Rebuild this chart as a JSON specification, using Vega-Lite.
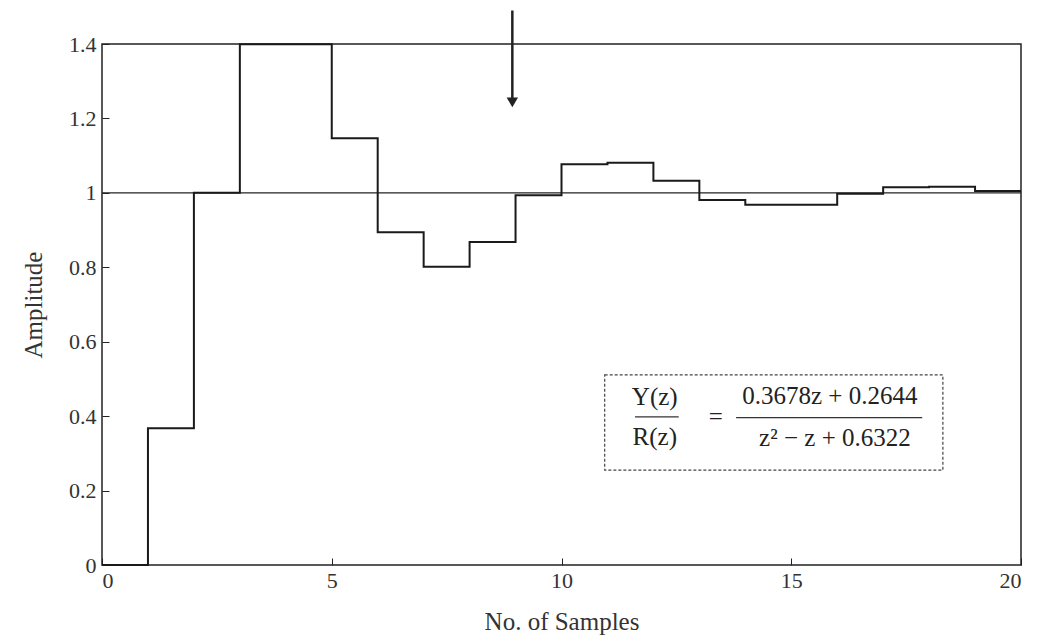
{
  "$schema": "https://vega.github.io/schema/vega-lite/v6.json",
  "autosize": "none",
  "padding": {"left": 102, "top": 44, "right": 22, "bottom": 75},
  "width": 919,
  "height": 521,
  "background": "white",
  "config": {
    "view": {"stroke": "#222", "strokeWidth": 1.5},
    "font": "Liberation Serif",
    "axis": {
      "grid": false,
      "domain": false,
      "tickColor": "#222",
      "tickSize": -7,
      "labelFont": "Liberation Serif",
      "labelFontSize": 22,
      "labelColor": "#333",
      "titleFont": "Liberation Serif",
      "titleFontSize": 25,
      "titleFontWeight": "normal",
      "titleColor": "#333"
    }
  },
  "datasets": {
    "resp": [
      {"k": 0, "y": 0},
      {"k": 1, "y": 0.3678},
      {"k": 2, "y": 1.0},
      {"k": 3, "y": 1.3996},
      {"k": 4, "y": 1.3996},
      {"k": 5, "y": 1.1469},
      {"k": 6, "y": 0.8944},
      {"k": 7, "y": 0.8015},
      {"k": 8, "y": 0.8682},
      {"k": 9, "y": 0.9937},
      {"k": 10, "y": 1.077},
      {"k": 11, "y": 1.081},
      {"k": 12, "y": 1.0323},
      {"k": 13, "y": 0.9811},
      {"k": 14, "y": 0.968},
      {"k": 15, "y": 0.968},
      {"k": 16, "y": 0.9975},
      {"k": 17, "y": 1.0148},
      {"k": 18, "y": 1.0164},
      {"k": 19, "y": 1.005},
      {"k": 20, "y": 1.005}
    ],
    "texts": [
      {"x": 12.03, "y": 0.452, "t": "Y(z)", "style": "italic"},
      {"x": 12.03, "y": 0.343, "t": "R(z)", "style": "italic"},
      {"x": 13.36, "y": 0.398, "t": "=", "style": "normal"},
      {"x": 15.84, "y": 0.455, "t": "0.3678z + 0.2644", "style": "normal"},
      {"x": 15.95, "y": 0.342, "t": "z² − z + 0.6322", "style": "normal"}
    ],
    "fracs": [
      {"x1": 11.6, "x2": 12.55, "y": 0.398},
      {"x1": 13.8, "x2": 17.85, "y": 0.396}
    ]
  },
  "layer": [
    {
      "data": {"values": [{"a": 1}]},
      "mark": {"type": "rule", "color": "#222", "strokeWidth": 1.3},
      "encoding": {"y": {"datum": 1, "type": "quantitative"}}
    },
    {
      "data": {"name": "resp"},
      "mark": {"type": "line", "interpolate": "step-after", "color": "#1a1a1a", "strokeWidth": 2},
      "encoding": {
        "x": {
          "field": "k", "type": "quantitative",
          "scale": {"domain": [0, 20], "nice": false},
          "axis": {"values": [0, 5, 10, 15, 20], "title": "No. of Samples", "labelPadding": 12, "titlePadding": 18}
        },
        "y": {
          "field": "y", "type": "quantitative",
          "scale": {"domain": [0, 1.4], "nice": false, "clamp": false},
          "axis": {"values": [0, 0.2, 0.4, 0.6, 0.8, 1, 1.2, 1.4], "format": "~g", "title": "Amplitude", "labelPadding": 13, "titlePadding": 22}
        }
      }
    },
    {
      "data": {"values": [{"x": 8.93, "y1": 1.49, "y2": 1.25}]},
      "mark": {"type": "rule", "color": "#222", "strokeWidth": 2.5, "clip": false},
      "encoding": {
        "x": {"field": "x", "type": "quantitative"},
        "y": {"field": "y1", "type": "quantitative"},
        "y2": {"field": "y2"}
      }
    },
    {
      "data": {"values": [{"x": 8.93, "y": 1.243}]},
      "mark": {"type": "point", "shape": "triangle-down", "filled": true, "color": "#222", "size": 130, "opacity": 1},
      "encoding": {
        "x": {"field": "x", "type": "quantitative"},
        "y": {"field": "y", "type": "quantitative"}
      }
    },
    {
      "data": {"values": [{"x1": 10.94, "x2": 18.3, "y1": 0.255, "y2": 0.511}]},
      "mark": {"type": "rect", "fill": "white", "stroke": "#444", "strokeWidth": 1.2, "strokeDash": [3, 2]},
      "encoding": {
        "x": {"field": "x1", "type": "quantitative"},
        "x2": {"field": "x2"},
        "y": {"field": "y1", "type": "quantitative"},
        "y2": {"field": "y2"}
      }
    },
    {
      "data": {"name": "fracs"},
      "mark": {"type": "rule", "color": "#333", "strokeWidth": 1.3},
      "encoding": {
        "x": {"field": "x1", "type": "quantitative"},
        "x2": {"field": "x2"},
        "y": {"field": "y", "type": "quantitative"}
      }
    },
    {
      "data": {"name": "texts"},
      "mark": {"type": "text", "fontSize": 25, "color": "#222", "align": "center", "baseline": "middle", "font": "Liberation Serif"},
      "encoding": {
        "x": {"field": "x", "type": "quantitative"},
        "y": {"field": "y", "type": "quantitative"},
        "text": {"field": "t"},
        "fontStyle": {"field": "style", "type": "nominal", "scale": null}
      }
    }
  ]
}
